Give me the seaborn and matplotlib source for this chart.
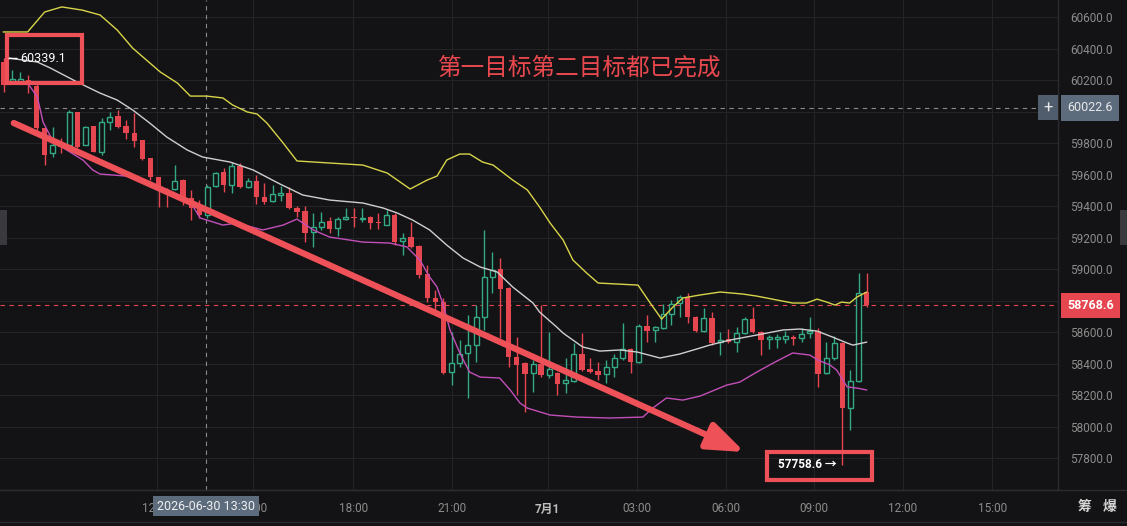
import numpy as np
import pandas as pd
import matplotlib.pyplot as plt
import matplotlib.patches as mpatches
from matplotlib.lines import Line2D
import seaborn as sns

# --- candle data (15 min) ---
opens = [60314, 60194, 60190, 60200, 60162, 59895, 59736, 59800, 59787, 59997,
         59787, 59908, 59743, 59933, 59971, 59908, 59863, 59819, 59705, 59584,
         59502, 59508, 59565, 59451, 59406, 59343, 59527, 59616, 59533, 59654,
         59521, 59559, 59457, 59432, 59470, 59483, 59387, 59368, 59235, 59267,
         59305, 59260, 59317, 59330, 59320, 59330, 59296, 59279, 59343, 59178,
         59203, 59146, 58968, 58816, 58790, 58346, 58403, 58466, 58517, 58695,
         58949, 59000, 58879, 58441, 58403, 58339, 58397, 58327, 58339, 58276,
         58289, 58460, 58365, 58352, 58333, 58378, 58435, 58492, 58409, 58638,
         58613, 58625, 58714, 58784, 58822, 58695, 58606, 58689, 58537, 58555,
         58537, 58593, 58682, 58600, 58556, 58555, 58556, 58570, 58562, 58593,
         58606, 58339, 58435, 58530, 58117, 58289, 58854]
highs = [60339.1, 60264, 60251, 60232, 60175, 59895, 59902, 59832, 60010, 60000,
         59905, 59910, 59959, 59997, 60010, 59946, 59990, 59820, 59705, 59584,
         59515, 59660, 59570, 59502, 59438, 59533, 59616, 59641, 59679, 59673,
         59578, 59597, 59546, 59533, 59527, 59521, 59400, 59400, 59355, 59362,
         59330, 59330, 59387, 59387, 59387, 59335, 59355, 59374, 59355, 59228,
         59298, 59150, 59025, 58867, 58816, 58600, 58549, 58708, 58771, 59248,
         59108, 59070, 58885, 58568, 58410, 58422, 58771, 58600, 58345, 58435,
         58530, 58593, 58435, 58410, 58422, 58460, 58657, 58498, 58650, 58708,
         58640, 58778, 58803, 58835, 58848, 58700, 58752, 58727, 58600, 58619,
         58632, 58695, 58759, 58605, 58580, 58590, 58606, 58580, 58625, 58695,
         58625, 58536, 58574, 58535, 58359, 58974, 58974]
lows = [60124, 60187, 60185, 60117, 59883, 59660, 59711, 59736, 59775, 59768,
        59785, 59740, 59724, 59883, 59895, 59825, 59775, 59692, 59565, 59394,
        59394, 59502, 59406, 59311, 59324, 59324, 59521, 59489, 59483, 59514,
        59514, 59413, 59413, 59425, 59432, 59381, 59330, 59171, 59140, 59248,
        59228, 59209, 59311, 59267, 59298, 59254, 59254, 59279, 59152, 59089,
        59133, 58943, 58790, 58740, 58335, 58263, 58378, 58181, 58409, 58613,
        58847, 58562, 58378, 58200, 58092, 58219, 58314, 58308, 58200, 58212,
        58282, 58350, 58339, 58295, 58276, 58314, 58422, 58339, 58405, 58536,
        58536, 58620, 58644, 58695, 58657, 58600, 58600, 58517, 58454, 58530,
        58473, 58587, 58593, 58454, 58490, 58498, 58530, 58517, 58536, 58562,
        58251, 58333, 58422, 57758.6, 57978, 58282, 58760]
closes = [60168, 60206, 60205, 60175, 59895, 59724, 59787, 59775, 59997, 59775,
          59902, 59743, 59933, 59965, 59902, 59863, 59813, 59698, 59584, 59502,
          59490, 59559, 59457, 59387, 59343, 59521, 59609, 59533, 59654, 59521,
          59559, 59457, 59425, 59476, 59483, 59387, 59362, 59228, 59267, 59298,
          59254, 59317, 59330, 59324, 59326, 59292, 59290, 59343, 59171, 59197,
          59140, 58962, 58816, 58790, 58339, 58403, 58460, 58517, 58695, 58949,
          58994, 58873, 58441, 58390, 58333, 58397, 58327, 58365, 58270, 58295,
          58460, 58358, 58346, 58327, 58378, 58435, 58492, 58409, 58638, 58606,
          58632, 58714, 58778, 58822, 58695, 58606, 58689, 58530, 58549, 58537,
          58593, 58682, 58600, 58549, 58568, 58568, 58575, 58556, 58587, 58606,
          58333, 58435, 58530, 58117, 58289, 58847, 58768.6]

# --- Bollinger band lines (vertices, x in candle index) ---
upper_x = [-0.1, 2.9, 5.0, 7.1, 9.6, 11.8, 13.9, 15.8, 19.2, 21.3, 22.9, 24.9, 26.9,
           28.1, 29.9, 31.1, 32.3, 34.3, 36.0, 40.0, 44.1, 47.1, 49.9, 52.0, 53.2,
           54.4, 56.0, 57.2, 58.8, 60.1, 62.5, 64.3, 65.8, 67.1, 68.7, 69.9, 71.6,
           73.0, 77.9, 79.4, 80.8, 82.2, 83.4, 85.5, 88.0, 90.8, 92.5, 95.0, 96.9,
           98.6, 99.9, 101.1, 102.1, 102.9, 103.9, 104.8, 106.0]
upper_y = [60505, 60505, 60632, 60664, 60644, 60613, 60518, 60403, 60251, 60181,
           60098, 60098, 60086, 60041, 59997, 59984, 59927, 59800, 59686, 59673,
           59660, 59609, 59508, 59565, 59590, 59692, 59730, 59730, 59679, 59660,
           59565, 59502, 59394, 59292, 59184, 59057, 58974, 58911, 58898, 58784,
           58682, 58759, 58816, 58835, 58854, 58841, 58828, 58803, 58784, 58784,
           58809, 58790, 58771, 58790, 58784, 58822, 58854]
mid_x = [0.5, 4.1, 5.7, 9.0, 11.8, 13.9, 15.8, 17.9, 20.0, 22.5, 24.4, 27.8, 30.6,
         33.9, 36.7, 40.0, 44.1, 46.6, 48.3, 50.2, 52.3, 54.4, 56.4, 58.5, 60.6,
         62.5, 65.0, 65.8, 67.9, 68.7, 71.1, 73.2, 75.7, 77.8, 80.6, 83.0, 85.5,
         86.7, 89.2, 92.5, 95.7, 97.8, 99.9, 101.8, 103.6, 104.3, 106.0]
mid_y = [60340, 60314, 60276, 60187, 60117, 60073, 60010, 59927, 59838, 59756,
         59711, 59679, 59629, 59540, 59470, 59438, 59419, 59387, 59356, 59311,
         59248, 59152, 59070, 59013, 58981, 58886, 58784, 58727, 58632, 58593,
         58505, 58479, 58486, 58473, 58435, 58460, 58498, 58517, 58549, 58581,
         58613, 58619, 58606, 58568, 58530, 58517, 58536]
lower_x = [2.9, 4.1, 4.8, 6.0, 7.7, 9.7, 10.9, 11.8, 15.1, 16.7, 19.2, 21.6, 22.9,
           24.1, 26.9, 28.6, 31.8, 34.3, 36.0, 38.0, 40.0, 44.1, 47.4, 49.5, 51.1,
           52.3, 53.2, 53.9, 54.8, 56.0, 57.2, 58.5, 60.9, 62.2, 63.4, 64.3, 67.1,
           70.4, 74.4, 78.5, 79.7, 81.4, 83.4, 85.5, 88.8, 90.4, 92.5, 94.5, 96.9,
           99.0, 100.0, 101.5, 102.3, 103.6, 104.8, 106.0]
lower_y = [60181, 60092, 59933, 59813, 59756, 59692, 59629, 59603, 59590, 59578,
           59508, 59451, 59425, 59324, 59279, 59292, 59248, 59279, 59317, 59248,
           59203, 59171, 59165, 59140, 59057, 58949, 58886, 58784, 58613, 58467,
           58346, 58314, 58308, 58232, 58149, 58117, 58073, 58060, 58054, 58060,
           58117, 58181, 58168, 58193, 58263, 58282, 58346, 58403, 58467, 58454,
           58422, 58390, 58359, 58251, 58244, 58232]

# --- axis labels ---
tick_pos = [18.8, 30.6, 42.9, 55.0, 66.8, 77.8, 88.7, 99.5, 110.4, 121.4]
tick_labels = ["12:00", "15:00", "18:00", "21:00", "7月1", "03:00", "06:00",
               "09:00", "12:00", "15:00"]
price_ticks = [57800, 58000, 58200, 58400, 58600, 58800, 59000, 59200,
               59400, 59600, 59800, 60000, 60200, 60400, 60600]
hidden_ticks = [58800, 60000]

cross_idx = 24.8
cross_label = "2026-06-30 13:30"
cross_price = 60022.6
last_price = 58768.6
high_mark = 60339.1
low_mark = 57758.6
title = "第一目标第二目标都已完成"

# arrow and boxes (candle index, price)
arrow_start = (1.2, 59927)
arrow_end = (91.0, 57838)
box1 = (0.4, 60181, 9.2, 305)
box2 = (93.7, 57660, 12.9, 178)

# colours
bg = "#131315"
grid_c = "#242427"
red = "#e5464f"
green = "#35a985"
ann_red = "#ef5158"
slate = "#5d6c7d"

sns.set_theme(style="dark")
plt.rcParams["font.family"] = ["Roboto", "Noto Sans CJK SC", "DejaVu Sans"]

W, H = 1127, 526
fig = plt.figure(figsize=(W / 100, H / 100), dpi=100, facecolor=bg)
ax = fig.add_axes([0, 36 / H, 1058 / W, 490 / H])
ax.set_facecolor(bg)
ax.set_xlim(-0.49, 129.5)
ax.set_ylim(57597, 60708)

# grid / ticks
ax.set_yticks(price_ticks)
ax.set_yticklabels(["" if p in hidden_ticks else f"{p:.1f}" for p in price_ticks])
ax.set_xticks(tick_pos)
ax.set_xticklabels(tick_labels)
ax.grid(True, color=grid_c, lw=0.8)
ax.yaxis.tick_right()
ax.tick_params(axis="y", length=0, pad=9, labelsize=8.5, colors="#8c8c8c")
ax.tick_params(axis="x", length=0, pad=9, labelsize=8.5, colors="#8c8c8c")
for lbl in ax.get_xticklabels():
    if lbl.get_text() == "7月1":
        lbl.set_fontweight("bold")
        lbl.set_color("#bdbdbd")
for s in ["top", "left"]:
    ax.spines[s].set_visible(False)
for s in ["right", "bottom"]:
    ax.spines[s].set_color("#2c2c30")
    ax.spines[s].set_linewidth(1)

# candles
df = pd.DataFrame({"o": opens, "h": highs, "l": lows, "c": closes})
df["i"] = np.arange(len(df))
up = df["c"] >= df["o"]
ax.vlines(df["i"], df["l"], df["h"], colors=np.where(up, green, red), lw=1, zorder=2)
body = (df["c"] - df["o"]).abs().clip(lower=6)
bottom = df[["o", "c"]].min(axis=1)
ax.bar(df["i"][up], body[up], bottom=bottom[up], width=0.62,
       facecolor=bg, edgecolor=green, lw=1, zorder=3)
ax.bar(df["i"][~up], body[~up], bottom=bottom[~up], width=0.66,
       color=red, lw=0, zorder=3)

# bands
sns.lineplot(x=upper_x, y=upper_y, ax=ax, color="#d8d44a", lw=1,
             estimator=None, sort=False, zorder=4)
sns.lineplot(x=mid_x, y=mid_y, ax=ax, color="#cfcfcf", lw=1,
             estimator=None, sort=False, zorder=4)
sns.lineplot(x=lower_x, y=lower_y, ax=ax, color="#c24fb8", lw=1,
             estimator=None, sort=False, zorder=4)

# crosshair and last price
ax.axvline(cross_idx, color="#8a8a8a", ls=(0, (4, 4)), lw=0.8, zorder=1)
ax.axhline(cross_price, xmax=1038 / 1058, color="#8a8a8a", ls=(0, (4, 4)), lw=0.8, zorder=1)
ax.axhline(last_price, color=red, ls=(0, (4, 4)), lw=0.8, zorder=1)

ax.text(1.0 + 9 / 1058, cross_price, f"{cross_price:.1f}", transform=ax.get_yaxis_transform(),
        ha="left", va="center", fontsize=9, color="#e8e8e8", clip_on=False, zorder=6,
        bbox=dict(boxstyle="square,pad=0.5", fc=slate, ec="none"))
ax.text(1048 / 1058, cross_price, "+", transform=ax.get_yaxis_transform(),
        ha="center", va="center", fontsize=12, color="#e8e8e8", zorder=6,
        bbox=dict(boxstyle="square,pad=0.3", fc="#4f5d6c", ec="none"))
ax.text(1.0 + 9 / 1058, last_price, f"{last_price:.1f}", transform=ax.get_yaxis_transform(),
        ha="left", va="center", fontsize=9, color="white", fontweight="bold",
        clip_on=False, zorder=6, bbox=dict(boxstyle="square,pad=0.5", fc=red, ec="none"))
ax.text(cross_idx, -16 / 490, cross_label, transform=ax.get_xaxis_transform(),
        ha="center", va="center", fontsize=9, color="#f0f0f0", clip_on=False, zorder=6,
        bbox=dict(boxstyle="square,pad=0.3", fc=slate, ec="none"))

# annotations
ax.hlines(high_mark, 0.5, 1.6, color="white", lw=1, zorder=6)
ax.text(2.0, high_mark, f"{high_mark:.1f}", ha="left", va="center",
        fontsize=9, color="white", zorder=6)
ax.text(102.3, low_mark, f"{low_mark:.1f} →", ha="right", va="center",
        fontsize=8.5, color="white", fontweight="bold", zorder=6)
ax.add_patch(mpatches.Rectangle(box1[:2], box1[2], box1[3], fill=False,
                                ec=ann_red, lw=3, zorder=5))
ax.add_patch(mpatches.Rectangle(box2[:2], box2[2], box2[3], fill=False,
                                ec=ann_red, lw=3, zorder=5))
ax.annotate("", xy=arrow_end, xytext=arrow_start, zorder=5,
            arrowprops=dict(arrowstyle="-|>,head_length=0.8,head_width=0.3",
                            mutation_scale=28, lw=4.5, color=ann_red,
                            shrinkA=0, shrinkB=0))
ax.text(580 / 1058, 1 - 68 / 490, title, transform=ax.transAxes, ha="center",
        va="center", fontsize=17, color="#e9484e",
        family=["Noto Sans CJK SC", "DejaVu Sans"])

# frame bits
fig.text(1085 / W, 1 - 507 / H, "筹", ha="center", va="center", fontsize=10,
         color="#d6d6d6", fontweight="bold", family=["Noto Sans CJK SC"])
fig.text(1110 / W, 1 - 507 / H, "爆", ha="center", va="center", fontsize=10,
         color="#d6d6d6", fontweight="bold", family=["Noto Sans CJK SC"])
fig.add_artist(Line2D([0, 1], [1 - 490 / H] * 2, color="#2c2c30", lw=1))
fig.add_artist(Line2D([0, 1], [1 - 522 / H] * 2, color="#2c2c30", lw=1))
fig.patches.append(mpatches.Rectangle((0, 1 - 245 / H), 7 / W, 35 / H,
                                      transform=fig.transFigure, fc="#3a3a3e", ec="none"))
fig.patches.append(mpatches.Rectangle((1 - 7 / W, 1 - 245 / H), 7 / W, 35 / H,
                                      transform=fig.transFigure, fc="#3a3a3e", ec="none"))

fig.savefig("out.png", dpi=100, facecolor=bg)
